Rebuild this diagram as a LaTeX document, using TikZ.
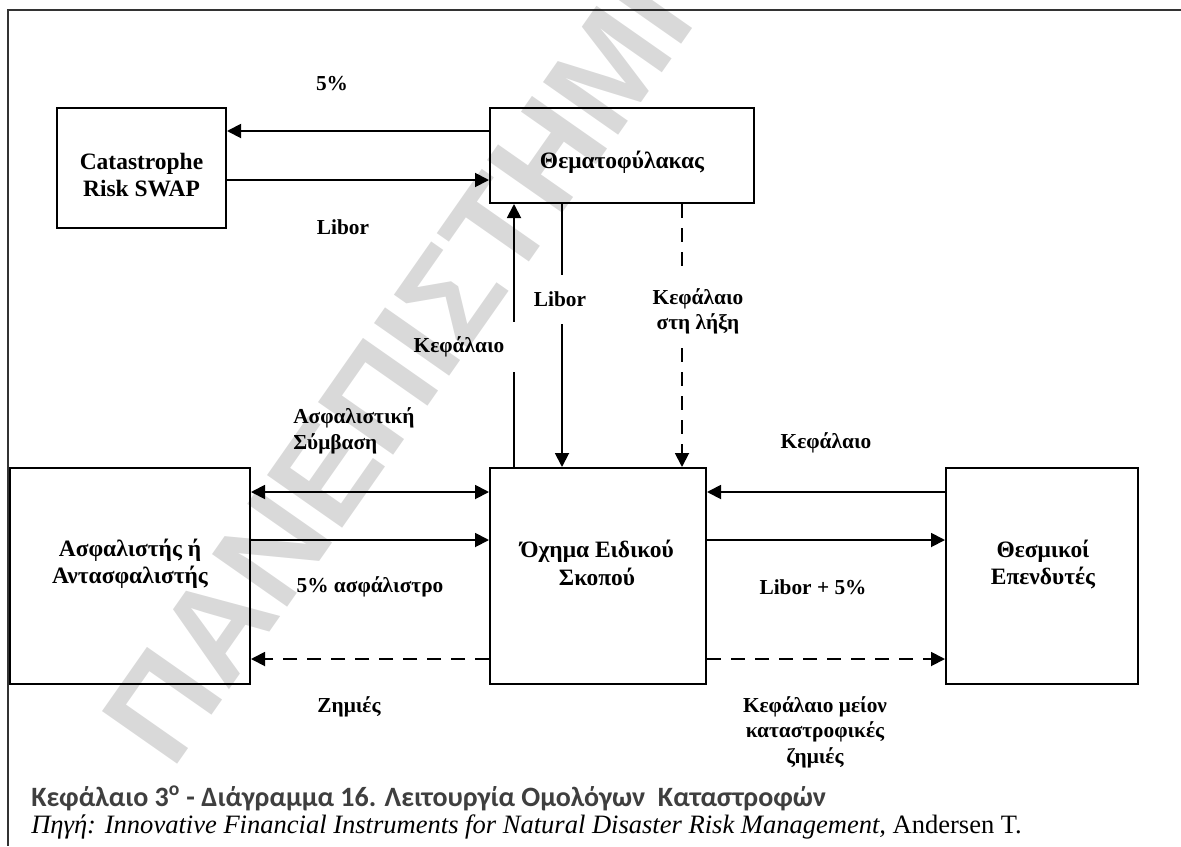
\documentclass[tikz,border=0pt]{standalone}
\usepackage{fontspec}
\setmainfont{Liberation Serif}
\newfontfamily\capfont{Carlito}
\newfontfamily\wmfont{Liberation Sans}
\usetikzlibrary{arrows.meta,calc}
\definecolor{capgray}{HTML}{3F3F3F}
\definecolor{framegray}{HTML}{333333}
\begin{document}
\begin{tikzpicture}[x=0.75pt,y=-0.75pt,
  boxnode/.style={draw, line width=1.5pt, inner sep=0pt},
  txt/.style={font=\bfseries\fontsize{17.6}{20.5}\selectfont, align=center, inner sep=0pt},
  lbl/.style={font=\bfseries\fontsize{16}{19}\selectfont, align=center, inner sep=0pt, fill=white},
  arr/.style={line width=1.4pt, -{Triangle[length=10.5pt,width=10.5pt]}},
  darr/.style={arr, dash pattern=on 10.5pt off 7.5pt},
  biarr/.style={line width=1.4pt, {Triangle[length=10.5pt,width=10.5pt]}-{Triangle[length=10.5pt,width=10.5pt]}}]
\useasboundingbox (0,0) rectangle (1181,846);
\fill[white] (0,0) rectangle (1181,846);

% boxes
\node[boxnode, minimum width=126.75pt, minimum height=90pt] (cat) at (141.5,168) {};
\node[boxnode, minimum width=198pt, minimum height=71.25pt] (theta) at (622,155.5) {};
\node[boxnode, minimum width=180pt, minimum height=162pt] (ins) at (130,576) {};
\node[boxnode, minimum width=162pt, minimum height=162pt] (spv) at (598,576) {};
\node[boxnode, minimum width=144pt, minimum height=162pt] (inv) at (1042,576) {};

% box texts
\node[txt] (catT) at (141.5,175) {Catastrophe\\Risk SWAP};
\node[txt] (thetaT) at (622,162) {Θεματοφύλακας};
\node[txt] (insT) at (130,564) {Ασφαλιστής ή\\Αντασφαλιστής};
\node[txt] (spvT) at (597,563) {Όχημα Ειδικού\\Σκοπού};
\node[txt] (invT) at (1043,564.5) {Θεσμικοί\\Επενδυτές};

% connectors
\draw[arr] (theta.west |- 0,131) -- (cat.east |- 0,131);
\draw[arr] (cat.east |- 0,180) -- (theta.west |- 0,180);
\draw[arr] (spv.north -| 514,0) -- (theta.south -| 514,0);
\draw[arr] (theta.south -| 562,0) -- (spv.north -| 562,0);
\draw[darr] (theta.south -| 682,0) -- (spv.north -| 682,0);
\draw[biarr] (ins.east |- 0,492) -- (spv.west |- 0,492);
\draw[arr] (ins.east |- 0,540) -- (spv.west |- 0,540);
\draw[darr] (spv.west |- 0,659) -- (ins.east |- 0,659);
\draw[arr] (inv.west |- 0,492) -- (spv.east |- 0,492);
\draw[arr] (spv.east |- 0,540) -- (inv.west |- 0,540);
\draw[darr] (spv.east |- 0,659) -- (inv.west |- 0,659);

% labels
\node[lbl] (l5) at (332,84) {5\%};
\node[lbl] (lLib1) at (343,227) {Libor};
\node[lbl, minimum width=67.5pt, minimum height=36.75pt] (lLib2) at (560,299.5) {Libor};
\node[lbl, minimum width=82.5pt, minimum height=54.75pt] (lKefL) at (698,311.5) {Κεφάλαιο\\στη λήξη};
\node[lbl, minimum width=88.5pt, minimum height=37.5pt] (lKef1) at (459,347) {Κεφάλαιο};
\node[lbl, align=left, anchor=west] (lSymb) at (293,431) {Ασφαλιστική\\Σύμβαση};
\node[lbl] (lKef2) at (826,443) {Κεφάλαιο};
\node[lbl] (lPrem) at (370,587) {5\% ασφάλιστρο};
\node[lbl] (lLib3) at (813,587) {Libor + 5\%};
\node[lbl] (lLoss) at (349,707) {Ζημιές};
\node[lbl] (lKefM) at (815,732) {Κεφάλαιο μείον\\καταστροφικές\\ζημιές};

% caption
\node[anchor=base west, inner sep=0pt, text=capgray, font=\capfont\bfseries\fontsize{21}{24}\selectfont] (cap1) at (31,806)
  {Κεφάλαιο 3\textsuperscript{o} - Διάγραμμα 16. Λειτουργία Ομολόγων\ \ Καταστροφών};
\node[anchor=base west, inner sep=0pt, font=\fontsize{19.9}{23}\selectfont] (cap2) at (31,833)
  {\textit{Πηγή: Innovative Financial Instruments for Natural Disaster Risk Management,} Andersen T.};

% frame
\draw[framegray, line width=1.5pt] (1181,10) -- (8,10) -- (8,846);

% watermark
\begin{scope}
\clip (0,0) rectangle (1181,846);
\node[rotate=55, anchor=base west, inner sep=0pt, text=black, text opacity=0.15,
  font=\wmfont\bfseries\fontsize{100}{100}\selectfont] (wm) at (172,772) {ΠΑΝΕΠΙΣΤΗΜΙΟ};
\end{scope}
\end{tikzpicture}
\end{document}
